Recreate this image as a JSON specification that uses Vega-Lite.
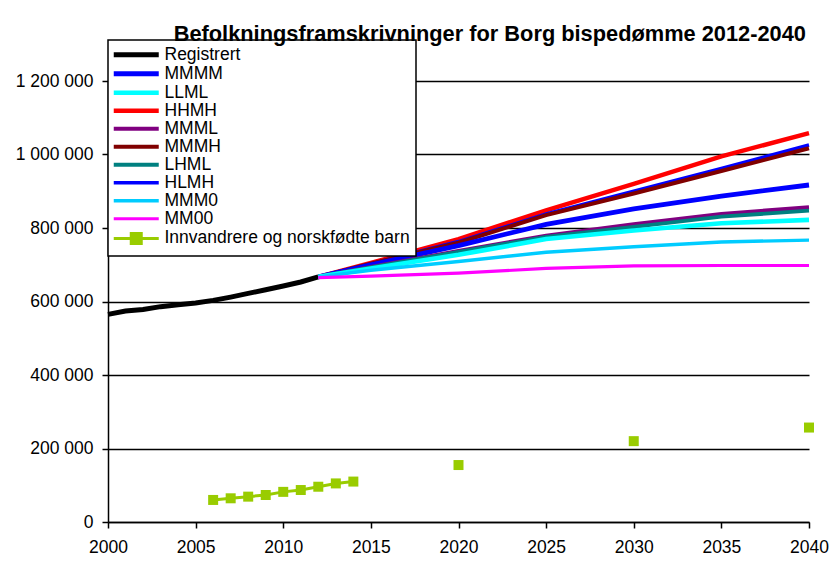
{
  "$schema": "https://vega.github.io/schema/vega-lite/v6.json",
  "width": 701,
  "height": 441,
  "autosize": {"type": "none"},
  "padding": {"left": 108, "top": 81, "right": 22, "bottom": 55},
  "background": "white",
  "title": {
    "text": "Befolkningsframskrivninger for Borg bispedømme  2012-2040",
    "anchor": "end",
    "frame": "group",
    "font": "Liberation Sans",
    "fontSize": 21.8,
    "fontWeight": "bold",
    "color": "black",
    "baseline": "alphabetic",
    "offset": -24,
    "dx": -3
  },
  "config": {
    "view": {"stroke": null},
    "font": "Liberation Sans",
    "locale": {"number": {"decimal": ",", "thousands": " ", "grouping": [3], "currency": ["", ""]}}
  },
  "data": {
    "values": [
      {"s": "Registrert", "year": 2000, "v": 565000},
      {"s": "Registrert", "year": 2001, "v": 574000},
      {"s": "Registrert", "year": 2002, "v": 578000},
      {"s": "Registrert", "year": 2003, "v": 586000},
      {"s": "Registrert", "year": 2004, "v": 591000},
      {"s": "Registrert", "year": 2005, "v": 596000},
      {"s": "Registrert", "year": 2006, "v": 603000},
      {"s": "Registrert", "year": 2007, "v": 612000},
      {"s": "Registrert", "year": 2008, "v": 622000},
      {"s": "Registrert", "year": 2009, "v": 632000},
      {"s": "Registrert", "year": 2010, "v": 642000},
      {"s": "Registrert", "year": 2011, "v": 653000},
      {"s": "Registrert", "year": 2012, "v": 667000},

      {"s": "HHMH", "year": 2012, "v": 667000},
      {"s": "HHMH", "year": 2015, "v": 705000},
      {"s": "HHMH", "year": 2020, "v": 770000},
      {"s": "HHMH", "year": 2025, "v": 848000},
      {"s": "HHMH", "year": 2030, "v": 920000},
      {"s": "HHMH", "year": 2035, "v": 995000},
      {"s": "HHMH", "year": 2040, "v": 1058000},

      {"s": "HLMH", "year": 2012, "v": 667000},
      {"s": "HLMH", "year": 2015, "v": 703000},
      {"s": "HLMH", "year": 2020, "v": 763000},
      {"s": "HLMH", "year": 2025, "v": 838000},
      {"s": "HLMH", "year": 2030, "v": 900000},
      {"s": "HLMH", "year": 2035, "v": 962000},
      {"s": "HLMH", "year": 2040, "v": 1026000},

      {"s": "MMMH", "year": 2012, "v": 667000},
      {"s": "MMMH", "year": 2015, "v": 703000},
      {"s": "MMMH", "year": 2020, "v": 760000},
      {"s": "MMMH", "year": 2025, "v": 835000},
      {"s": "MMMH", "year": 2030, "v": 894000},
      {"s": "MMMH", "year": 2035, "v": 955000},
      {"s": "MMMH", "year": 2040, "v": 1017000},

      {"s": "MMMM", "year": 2012, "v": 667000},
      {"s": "MMMM", "year": 2015, "v": 700000},
      {"s": "MMMM", "year": 2020, "v": 752000},
      {"s": "MMMM", "year": 2025, "v": 810000},
      {"s": "MMMM", "year": 2030, "v": 852000},
      {"s": "MMMM", "year": 2035, "v": 887000},
      {"s": "MMMM", "year": 2040, "v": 917000},

      {"s": "MMML", "year": 2012, "v": 667000},
      {"s": "MMML", "year": 2015, "v": 694000},
      {"s": "MMML", "year": 2020, "v": 737000},
      {"s": "MMML", "year": 2025, "v": 779000},
      {"s": "MMML", "year": 2030, "v": 810000},
      {"s": "MMML", "year": 2035, "v": 838000},
      {"s": "MMML", "year": 2040, "v": 856000},

      {"s": "LHML", "year": 2012, "v": 667000},
      {"s": "LHML", "year": 2015, "v": 693000},
      {"s": "LHML", "year": 2020, "v": 735000},
      {"s": "LHML", "year": 2025, "v": 776000},
      {"s": "LHML", "year": 2030, "v": 803000},
      {"s": "LHML", "year": 2035, "v": 831000},
      {"s": "LHML", "year": 2040, "v": 847000},

      {"s": "LLML", "year": 2012, "v": 667000},
      {"s": "LLML", "year": 2015, "v": 690000},
      {"s": "LLML", "year": 2020, "v": 727000},
      {"s": "LLML", "year": 2025, "v": 770000},
      {"s": "LLML", "year": 2030, "v": 793000},
      {"s": "LLML", "year": 2035, "v": 813000},
      {"s": "LLML", "year": 2040, "v": 822000},

      {"s": "MMM0", "year": 2012, "v": 667000},
      {"s": "MMM0", "year": 2015, "v": 685000},
      {"s": "MMM0", "year": 2020, "v": 709000},
      {"s": "MMM0", "year": 2025, "v": 734000},
      {"s": "MMM0", "year": 2030, "v": 749000},
      {"s": "MMM0", "year": 2035, "v": 762000},
      {"s": "MMM0", "year": 2040, "v": 767000},

      {"s": "MM00", "year": 2012, "v": 665000},
      {"s": "MM00", "year": 2015, "v": 669000},
      {"s": "MM00", "year": 2020, "v": 677000},
      {"s": "MM00", "year": 2025, "v": 690000},
      {"s": "MM00", "year": 2030, "v": 697000},
      {"s": "MM00", "year": 2035, "v": 698000},
      {"s": "MM00", "year": 2040, "v": 698000},

      {"s": "Innvandrere og norskfødte barn", "year": 2006, "v": 60000},
      {"s": "Innvandrere og norskfødte barn", "year": 2007, "v": 64500},
      {"s": "Innvandrere og norskfødte barn", "year": 2008, "v": 69000},
      {"s": "Innvandrere og norskfødte barn", "year": 2009, "v": 73500},
      {"s": "Innvandrere og norskfødte barn", "year": 2010, "v": 82000},
      {"s": "Innvandrere og norskfødte barn", "year": 2011, "v": 87000},
      {"s": "Innvandrere og norskfødte barn", "year": 2012, "v": 96000},
      {"s": "Innvandrere og norskfødte barn", "year": 2013, "v": 105000},
      {"s": "Innvandrere og norskfødte barn", "year": 2014, "v": 110000},
      {"s": "Innvandrere og norskfødte barn", "year": 2020, "v": 155000},
      {"s": "Innvandrere og norskfødte barn", "year": 2030, "v": 220000},
      {"s": "Innvandrere og norskfødte barn", "year": 2040, "v": 257000}
    ]
  },
  "layer": [
    {
      "transform": [{"filter": "datum.s !== 'Innvandrere og norskfødte barn' || datum.year <= 2014"}],
      "mark": {"type": "line", "clip": false},
      "encoding": {
        "x": {
          "field": "year", "type": "quantitative",
          "scale": {"domain": [2000, 2040], "nice": false, "zero": false},
          "axis": {
            "values": [2000, 2005, 2010, 2015, 2020, 2025, 2030, 2035, 2040],
            "format": "d", "title": null, "grid": false,
            "domain": true, "domainColor": "black", "domainWidth": 1.5,
            "ticks": true, "tickColor": "black", "tickSize": 6, "tickWidth": 1.5,
            "labelFont": "Liberation Sans", "labelFontSize": 17.5, "labelColor": "black",
            "labelPadding": 10, "labelFlush": false, "labelOverlap": false
          }
        },
        "y": {
          "field": "v", "type": "quantitative",
          "scale": {"domain": [0, 1200000], "nice": false},
          "axis": {
            "values": [0, 200000, 400000, 600000, 800000, 1000000, 1200000],
            "format": ",d", "title": null,
            "grid": true, "gridColor": "black", "gridWidth": 1.5, "gridOpacity": 1,
            "domain": true, "domainColor": "black", "domainWidth": 1.5,
            "ticks": true, "tickColor": "black", "tickSize": 6, "tickWidth": 1.5,
            "labelFont": "Liberation Sans", "labelFontSize": 17.5, "labelColor": "black",
            "labelPadding": 9, "labelOverlap": false
          }
        },
        "color": {
          "field": "s", "type": "nominal",
          "scale": {
            "domain": ["Registrert", "MMMM", "LLML", "HHMH", "MMML", "MMMH", "LHML", "HLMH", "MMM0", "MM00", "Innvandrere og norskfødte barn"],
            "range": ["#000000", "#0000FF", "#00FFFF", "#FF0000", "#800080", "#800000", "#008080", "#0000FF", "#00CCFF", "#FF00FF", "#99CC00"]
          },
          "legend": {
            "title": null,
            "orient": "none",
            "legendX": 0,
            "legendY": -41,
            "direction": "vertical",
            "columns": 1,
            "symbolType": "stroke",
            "symbolSize": 100,
            "labelFont": "Liberation Sans",
            "labelFontSize": 17.5,
            "labelColor": "black",
            "labelOffset": 33,
            "labelLimit": 400,
            "rowPadding": -1.3,
            "padding": 6,
            "strokeColor": "black",
            "fillColor": "white",
            "encode": {
              "legend": {"update": {"strokeWidth": {"value": 1.5}}},
              "symbols": {
                "update": {
                  "shape": {"signal": "datum.value === 'Innvandrere og norskfødte barn' ? 'M-1.8,0L7.2,0M1.7,-1L3.7,-1L3.7,1L1.7,1Z' : 'M-1.8,0L7.2,0'"},
                  "fill": {"signal": "datum.value === 'Innvandrere og norskfødte barn' ? '#99CC00' : 'transparent'"},
                  "strokeWidth": {"signal": "datum.value === 'Registrert' ? 5 : (indexof(['MMML', 'LHML', 'HLMH', 'Innvandrere og norskfødte barn'], datum.value) >= 0 ? 1.5 : 3.5)"},
                  "opacity": {"value": 1}
                }
              }
            }
          }
        },
        "strokeWidth": {
          "field": "s", "type": "nominal",
          "scale": {
            "domain": ["Registrert", "MMMM", "LLML", "HHMH", "MMML", "MMMH", "LHML", "HLMH", "MMM0", "MM00", "Innvandrere og norskfødte barn"],
            "range": [5, 3, 3, 3, 1.5, 3, 1.5, 1.5, 3, 3, 1.5]
          },
          "legend": null
        }
      }
    },
    {
      "transform": [{"filter": "datum.s === 'Innvandrere og norskfødte barn'"}],
      "mark": {"type": "point", "shape": "square", "filled": true, "size": 100, "color": "#99CC00", "opacity": 1, "clip": false},
      "encoding": {
        "x": {"field": "year", "type": "quantitative"},
        "y": {"field": "v", "type": "quantitative"}
      }
    }
  ]
}
